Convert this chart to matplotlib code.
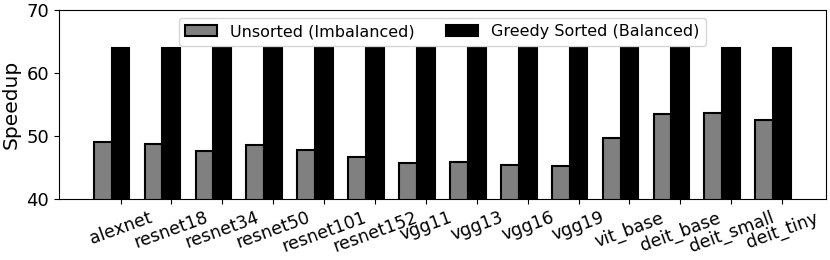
import numpy as np
import matplotlib
matplotlib.use("Agg")
import matplotlib.pyplot as plt

models = ["alexnet", "resnet18", "resnet34", "resnet50", "resnet101", "resnet152",
          "vgg11", "vgg13", "vgg16", "vgg19", "vit_base", "deit_base", "deit_small", "deit_tiny"]
unsorted = [49.1, 48.7, 47.6, 48.5, 47.8, 46.7, 45.7, 45.9, 45.4, 45.3, 49.7, 53.5, 53.6, 52.5]
greedy = [64.0] * 14

x = np.arange(len(models))
w = 0.35

fig, ax = plt.subplots(figsize=(8.3, 2.6), dpi=100)
fig.subplots_adjust(left=0.071, right=0.995, top=0.962, bottom=0.235)

ax.bar(x - w, unsorted, w, color="gray", edgecolor="black", linewidth=1.5,
       label="Unsorted (Imbalanced)")
ax.bar(x, greedy, w, color="black", edgecolor="black", linewidth=1.5,
       label="Greedy Sorted (Balanced)")

ax.set_ylim(40, 70)
ax.set_yticks([40, 50, 60, 70])
ax.set_ylabel("Speedup", fontsize=14.5)
ax.set_xticks(x)
ax.set_xticklabels(models, rotation=20, fontsize=12.5)
ax.tick_params(axis="y", labelsize=13)
ax.legend(loc="upper center", ncol=2, fontsize=11.5)

fig.savefig("out.png", dpi=100)
